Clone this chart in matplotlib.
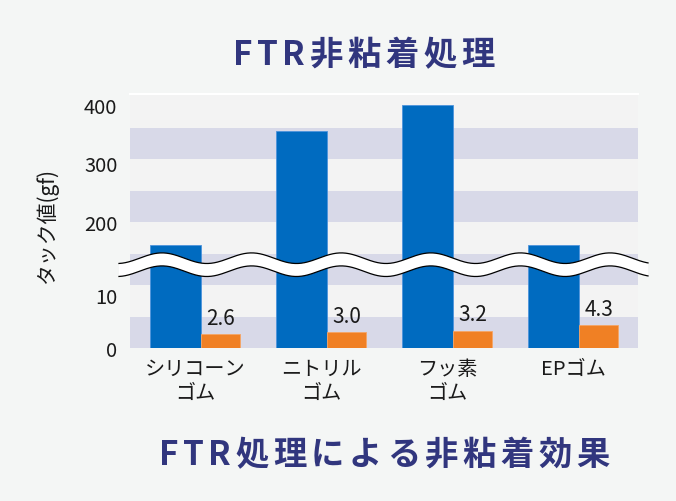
import numpy as np
import matplotlib.pyplot as plt
from matplotlib.patches import Rectangle, Polygon
from matplotlib.lines import Line2D

plt.rcParams['font.family'] = ['Noto Sans CJK JP', 'DejaVu Sans']

# データ
categories = ['シリコーン\nゴム', 'ニトリル\nゴム', 'フッ素\nゴム', 'EPゴム']
untreated = [160, 355, 400, 160]      # 未処理 (gf)
treated = [2.6, 3.0, 3.2, 4.3]        # FTR処理後 (gf)
treated_labels = ['2.6', '3.0', '3.2', '4.3']
ytick_values = [0, 10, 200, 300, 400]

# 軸の省略 (下段 0-10台 / 上段 200-400台)
LO_RATE = 5.3
HI_RATE = 0.585
BREAK_PX = 83.3
BREAK_LO = BREAK_PX / LO_RATE
BREAK_HI = 200 - (126 - BREAK_PX) / HI_RATE


def fwd(v):
    v = np.asarray(v, dtype=float)
    return np.where(v <= BREAK_LO, v * LO_RATE,
                    np.where(v >= BREAK_HI, BREAK_PX + (v - BREAK_HI) * HI_RATE, BREAK_PX))


def inv(p):
    p = np.asarray(p, dtype=float)
    return np.where(p <= BREAK_PX, p / LO_RATE, BREAK_HI + (p - BREAK_PX) / HI_RATE)


W, H = 676, 502
navy = '#31367e'
blue = '#006bc0'
orange = '#f08024'
txt = '#1a1a1a'

fig = plt.figure(figsize=(W / 100, H / 100), dpi=100, facecolor='#f4f6f5')
ax = fig.add_axes([130 / W, 1 - 349 / H, 508 / W, 254 / H])
ax.set_facecolor('#f3f3f3')
ax.set_yscale('function', functions=(fwd, inv))
ax.set_ylim(0, float(inv(254)))

# 背景の帯
for k in range(4):
    ax.add_patch(Rectangle((0, k * 63 / 254), 1, 31 / 254, transform=ax.transAxes,
                           facecolor='#d8d9e8', edgecolor='none', zorder=0.5))

x = np.arange(len(categories))
ax.bar(x - 0.357, untreated, width=0.405, align='edge', color=blue,
       edgecolor='#4d93dc', linewidth=0.6, zorder=2)
ax.bar(x + 0.048, treated, width=0.31, align='edge', color=orange,
       edgecolor='#f5a565', linewidth=0.6, zorder=2)

for xi, v, s in zip(x, treated, treated_labels):
    ax.annotate(s, (xi + 0.203, v), xytext=(0, 4), textcoords='offset points',
                ha='center', va='bottom', fontsize=15, color=txt)

ax.set_xlim(-0.516, 3.516)
ax.set_xticks(x)
ax.set_xticklabels(categories, linespacing=1.2)
ax.set_yticks(ytick_values)
ax.set_yticklabels([str(t) for t in ytick_values])
ax.tick_params(axis='both', length=0, labelsize=14.5, colors=txt)
ax.tick_params(axis='y', pad=9)
ax.tick_params(axis='x', pad=7)
for side in ['left', 'right', 'bottom']:
    ax.spines[side].set_visible(False)
ax.spines['top'].set_color('white')
ax.spines['top'].set_linewidth(1.5)

# 波線 (省略記号)
xs = np.linspace(119, 648, 500)
center = 265.7 - 5.3 * np.cos(2 * np.pi * (xs - 162) / 89.6)
up = 1 - (center - 6.5) / H
lo = 1 - (center + 6.5) / H
fx = xs / W
fig.add_artist(Polygon(np.column_stack([np.r_[fx, fx[::-1]], np.r_[up, lo[::-1]]]),
                       closed=True, transform=fig.transFigure, facecolor='white',
                       edgecolor='none', zorder=5))
for edge in (up, lo):
    fig.add_artist(Line2D(fx, edge, transform=fig.transFigure, color='black',
                          lw=0.9, zorder=6))

fig.text(47 / W, 1 - 226 / H, 'タック値(gf)', rotation=90, ha='center', va='center',
         fontsize=15, color=txt)


# 字間を空けたタイトル
def spaced_text(cx, baseline, s, gap, **kw):
    r = fig.canvas.get_renderer()
    items = [fig.text(0, 0, ch, va='baseline', **kw) for ch in s]
    widths = [t.get_window_extent(r).width for t in items]
    pos = cx - (sum(widths) + gap * (len(s) - 1)) / 2
    for t, w in zip(items, widths):
        t.set_position((pos / W, 1 - baseline / H))
        pos += w + gap


spaced_text(363.5, 65, 'FTR非粘着処理', 4.5, fontsize=24, fontweight='bold', color=navy)
spaced_text(384, 465, 'FTR処理による非粘着効果', 4.5, fontsize=24, fontweight='bold', color=navy)

fig.savefig('out.png', dpi=100, facecolor=fig.get_facecolor())
